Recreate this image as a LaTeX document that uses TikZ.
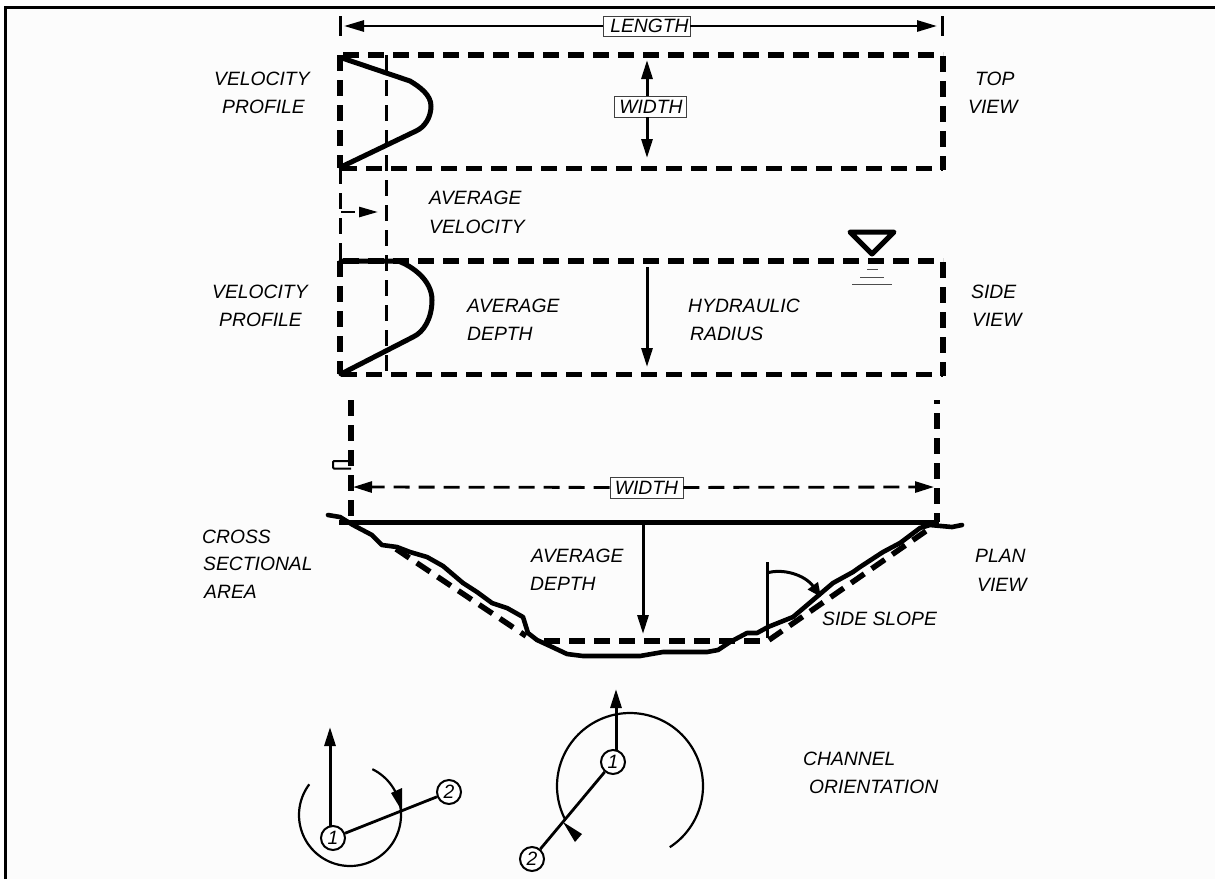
\documentclass[tikz,border=0pt]{standalone}
\usepackage{fontspec}
\setmainfont{Liberation Sans}
\usetikzlibrary{arrows.meta,calc}
\tikzset{
  x=1pt,y=-1pt,
  lbl/.style={anchor=west,inner sep=0pt,font=\fontsize{19.3}{19.3}\selectfont\itshape},
  boxlbl/.style={draw=black!75,line width=0.8pt,fill=white,inner sep=0pt,font=\fontsize{19.3}{19.3}\selectfont\itshape},
  thickdash/.style={line width=5.5pt,dash pattern=on 16pt off 9pt},
  thindash/.style={line width=2.8pt,dash pattern=on 16pt off 9pt},
  heavy/.style={line width=5pt,line join=round,line cap=round},
  arr/.style={line width=3pt,-{Triangle[length=19pt,width=11pt]}},
  circ/.style={circle,draw,line width=2pt,fill=white,minimum size=24pt,inner sep=0pt,font=\fontsize{19.3}{19.3}\selectfont\itshape},
  ground/.style={line width=4.6pt,line join=round,line cap=round},
}
\begin{document}
\begin{tikzpicture}
\useasboundingbox (0,0) rectangle (1215,879);
\fill[white] (0,0) rectangle (1215,879);
\fill[black!1] (7,9) rectangle (1215,879);
% frame
\draw[line width=3pt] (5.5,879) -- (5.5,7) -- (1215,7);
% top and side rectangles
\draw[thickdash] (343,55) -- (943,55);
\draw[thickdash] (341,168.5) -- (943,168.5);
\draw[line width=6pt,dash pattern=on 16pt off 9pt] (340,55) -- (340,168);
\draw[line width=6pt,dash pattern=on 16pt off 9pt] (943,56) -- (943,170);
\draw[thickdash] (343,261) -- (943,261);
\draw[thickdash] (341,374.5) -- (943,374.5);
\draw[line width=6pt,dash pattern=on 16pt off 9pt] (340,261) -- (340,374);
\draw[line width=6pt,dash pattern=on 16pt off 9pt] (943,262) -- (943,376);
% average velocity guides
\draw[thindash] (386.5,55) -- (386.5,374);
\draw[thindash] (340.5,168) -- (340.5,261);
\coordinate (avl) at (341,212);
\coordinate (avr) at (378,212);
\draw[line width=2.6pt,dash pattern=on 14pt off 4pt on 20pt off 0pt,-{Triangle[length=19pt,width=10pt]}] (avl) -- (avr);
% velocity profiles
\draw[heavy] (342,58) -- (410,81) .. controls (420,87) and (431,95) .. (431,106) .. controls (431,117) and (425,127) .. (416,131) -- (341,167);
\draw[heavy] (341,261) -- (398,261) .. controls (412,266) and (432,280) .. (432,300) .. controls (432,318) and (424,332) .. (413,337) -- (341,374);
% length
\node[boxlbl,minimum width=87pt,minimum height=20pt] (len) at (646.5,26) {\raisebox{-4pt}{\hspace*{6pt}LENGTH}};
\coordinate (lenl) at (344,26);
\coordinate (lenr) at (937,26);
\draw[line width=2.4pt] (340.5,16) -- (340.5,36);
\draw[line width=2.4pt] (942.5,16) -- (942.5,36);
\draw[line width=2.8pt,-{Triangle[length=20pt,width=11pt]}] (len) -- (lenl);
\draw[line width=2.8pt,-{Triangle[length=20pt,width=11pt]}] (len) -- (lenr);
% width top
\node[boxlbl,minimum width=72pt,minimum height=21pt] (wtop) at (650,106.5) {\hspace*{2pt}WIDTH};
\coordinate (wtu) at (647,60);
\coordinate (wtd) at (647,158);
\draw[arr] (647,96) -- (wtu);
\draw[arr] (647,117) -- (wtd);
% side arrow
\coordinate (sa) at (647,267);
\coordinate (sb) at (647,367);
\draw[arr] (sa) -- (sb);
% water level
\draw[line width=5pt,line join=round] (850,232) -- (894,232) -- (872,254) -- cycle;
\draw[black!70,line width=1pt] (867,269) -- (878,269);
\draw[black!70,line width=1pt] (860,277) -- (884,277);
\draw[black!70,line width=1pt] (852,284) -- (892,284);
% plan dashed verticals
\draw[line width=6pt,dash pattern=on 16pt off 9pt] (351,400) -- (351,520);
\draw[line width=6pt] (937,400) -- (937,404);
\draw[line width=6pt,dash pattern=on 16pt off 9pt] (937,413) -- (937,522);
% small rect
\draw[line width=2pt,rounded corners=1pt] (351,461) -- (333,461) -- (333,468.5) -- (351,468.5);
% width lower
\node[boxlbl,minimum width=73pt,minimum height=21pt] (wlow) at (646.5,487.5) {WIDTH};
\coordinate (wll) at (353,487);
\coordinate (wlr) at (934,487);
\draw[thindash,-{Triangle[length=19pt,width=11pt,sep=0pt]},dash pattern=on 16pt off 9pt] (wlow) -- (wll);
\draw[thindash,-{Triangle[length=19pt,width=11pt,sep=0pt]},dash pattern=on 16pt off 9pt] (wlow) -- (wlr);
% water surface
\draw[line width=5.5pt] (339,522.5) -- (939,522.5);
\coordinate (da) at (643,523);
\coordinate (db) at (643,634);
\draw[arr] (da) -- (db);
% ideal section
\draw[thickdash] (396,549) -- (526,636);
\draw[thickdash] (544,641) -- (760,641);
\draw[thickdash] (769,640) -- (926,531);
% ground
\draw[ground] (328,515) -- (340,517) -- (353,525) -- (372,535) -- (382,545) -- (397,547) -- (410,552) -- (427,557) -- (443,566) -- (463,583) -- (477,592) -- (492,603) -- (507,608) -- (523,617) -- (528,633) -- (537,640) -- (550,646) -- (567,654) -- (583,656) -- (620,656) -- (640,656) -- (663,652) -- (707,652) -- (718,650) -- (730,642) -- (747,633) -- (757,633) -- (768,627) -- (793,617) -- (813,600) -- (833,583) -- (853,572) -- (860,567) -- (883,552) -- (900,543) -- (920,528) -- (930,525) -- (952,527) -- (962,525);
% side slope
\draw[line width=3pt] (767,562) -- (767,638);
\coordinate (ssa) at (767,573);
\coordinate (ssb) at (821,597);
\draw[line width=3pt,-{Triangle[length=14pt,width=12pt]}] (ssa) .. controls (783,568) and (805,575) .. (ssb);
% orientation left
\draw[line width=2.2pt,domain=217:-64,samples=80] plot ({350+51*cos(\x)},{815+51*sin(\x)});
\fill (402,811) -- (391,793) -- (402,788) -- cycle;
\node[circ] (la) at (333,838) {1};
\node[circ] (lb) at (449,792) {2};
\coordinate (lu) at (330,727);
\draw[arr] (330,826) -- (lu);
\draw[line width=2.8pt] (la) -- (lb);
% orientation right
\draw[line width=2.2pt,domain=57:-207,samples=100] plot ({630+73*cos(\x)},{786+73*sin(\x)});
\fill (563,822) -- (582,834) -- (575,842) -- cycle;
\node[circ] (ra) at (613,762) {1};
\node[circ] (rb) at (532,859) {2};
\coordinate (ru) at (616,689);
\draw[arr] (616,750) -- (ru);
\draw[line width=2.8pt] (ra) -- (rb);
% labels
\node[lbl] (t1) at (214,79) {VELOCITY};
\node[lbl] (t2) at (222,107) {PROFILE};
\node[lbl] (t3) at (212,292) {VELOCITY};
\node[lbl] (t4) at (219,320) {PROFILE};
\node[lbl] (t5) at (429,198) {AVERAGE};
\node[lbl] (t6) at (429,227) {VELOCITY};
\node[lbl] (t7) at (467,306) {AVERAGE};
\node[lbl] (t8) at (467,334) {DEPTH};
\node[lbl] (t9) at (688,306) {HYDRAULIC};
\node[lbl] (t10) at (690,334) {RADIUS};
\node[lbl] (t11) at (975,79) {TOP};
\node[lbl] (t12) at (968,107) {VIEW};
\node[lbl] (t13) at (971,292) {SIDE};
\node[lbl] (t14) at (972,320) {VIEW};
\node[lbl] (t15) at (202,537) {CROSS};
\node[lbl] (t16) at (203,564) {SECTIONAL};
\node[lbl] (t17) at (204,592) {AREA};
\node[lbl] (t18) at (531,556) {AVERAGE};
\node[lbl] (t19) at (530,584) {DEPTH};
\node[lbl] (t20) at (975,556) {PLAN};
\node[lbl] (t21) at (977,585) {VIEW};
\node[lbl] (t22) at (822,619) {SIDE SLOPE};
\node[lbl] (t23) at (803,759) {CHANNEL};
\node[lbl] (t24) at (809,787) {ORIENTATION};
\end{tikzpicture}
\end{document}
